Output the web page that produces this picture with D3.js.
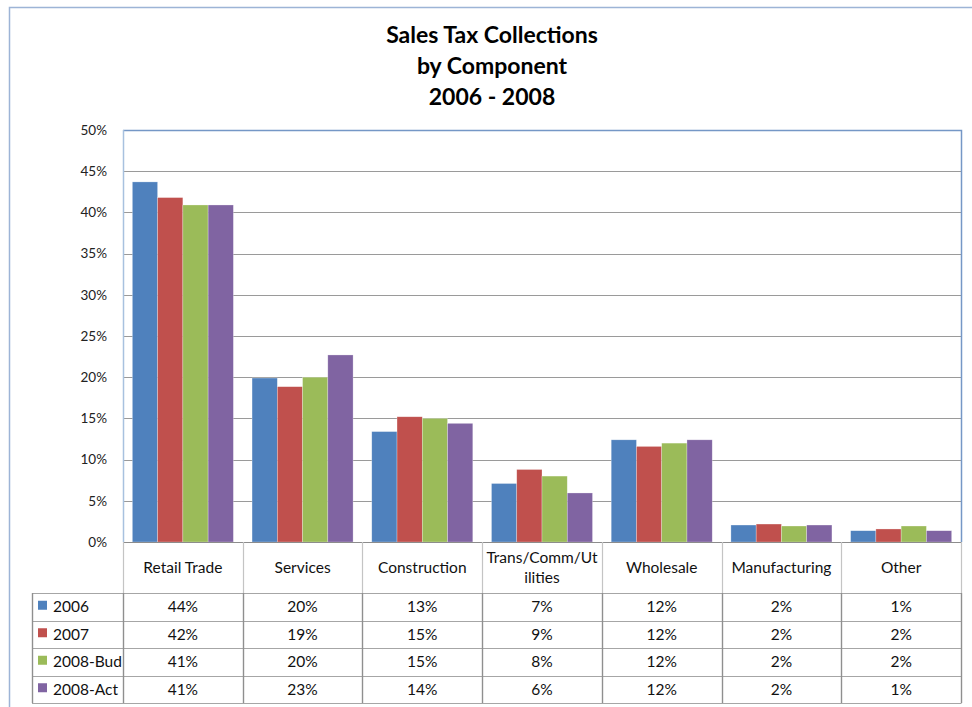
<!DOCTYPE html>
<html>
<head>
<meta charset="utf-8">
<script src="https://cdn.jsdelivr.net/npm/d3@7"></script>
<style>
  html, body { margin: 0; padding: 0; background: #fff; }
  svg { display: block; font-family: Lato, "Open Sans", sans-serif; }
</style>
</head>
<body>
<svg id="chart" width="972" height="707"></svg>
<script>
// Sales tax share by component, 2006 - 2008
const categories = ["Retail Trade", "Services", "Construction", "Trans/Comm/Utilities", "Wholesale", "Manufacturing", "Other"];
const headerLines = [["Retail Trade"], ["Services"], ["Construction"], ["Trans/Comm/Ut", "ilities"], ["Wholesale"], ["Manufacturing"], ["Other"]];
const seriesNames = ["2006", "2007", "2008-Bud", "2008-Act"];
const seriesColors = ["#4F81BD", "#C0504D", "#9BBB59", "#8064A2"];
const values2006    = [0.437, 0.199, 0.134, 0.071, 0.124, 0.0206, 0.0137];
const values2007    = [0.418, 0.1885, 0.152, 0.088, 0.116, 0.0218, 0.0158];
const values2008Bud = [0.409, 0.200, 0.150, 0.080, 0.120, 0.0194, 0.0194];
const values2008Act = [0.409, 0.227, 0.144, 0.0595, 0.124, 0.0206, 0.0137];
const yTicks = [0, 0.05, 0.10, 0.15, 0.20, 0.25, 0.30, 0.35, 0.40, 0.45, 0.50];

const series = [values2006, values2007, values2008Bud, values2008Act];

const svg = d3.select("#chart");
const plot = { left: 123, right: 961, top: 130, bottom: 542 };
const table = { left: 32, headerBottom: 593, rowH: 27.5 };
const tableFont = 15.5;

// outer chart frame
svg.append("rect")
  .attr("x", 9.5).attr("y", 7.5).attr("width", 980).attr("height", 720)
  .attr("fill", "none").attr("stroke", "#9db4d6").attr("stroke-width", 1.5);

// title
const title = svg.append("text")
  .attr("text-anchor", "middle")
  .attr("font-weight", "bold").attr("font-size", 23).attr("fill", "#000");
["Sales Tax Collections", "by Component", "2006 - 2008"].forEach((t, i) => {
  title.append("tspan").attr("x", 492).attr("y", 43 + i * 31).text(t);
});

const x0 = d3.scaleBand().domain(categories).range([plot.left, plot.right]).padding(0);
const x1 = d3.scaleBand().domain(seriesNames)
  .range([0, x0.bandwidth()]).paddingInner(0).paddingOuter(0.37);
const y = d3.scaleLinear().domain([0, 0.5]).range([plot.bottom, plot.top]);

// gridlines
svg.append("g")
  .selectAll("line").data(yTicks.slice(1, -1)).join("line")
  .attr("x1", plot.left).attr("x2", plot.right)
  .attr("y1", d => Math.round(y(d)) + 0.5).attr("y2", d => Math.round(y(d)) + 0.5)
  .attr("stroke", "#9a9a9a").attr("stroke-width", 1);

// y axis labels
const yAxis = d3.axisLeft(y).tickValues(yTicks).tickFormat(d3.format(".0%")).tickSize(0).tickPadding(16);
const gy = svg.append("g").attr("transform", `translate(${plot.left},0)`).call(yAxis);
gy.select(".domain").remove();
gy.selectAll("text").attr("font-size", 13.5).attr("fill", "#222")
  .attr("font-family", "Lato, 'Open Sans', sans-serif");

// bars
const groups = svg.append("g").selectAll("g").data(categories).join("g")
  .attr("transform", d => `translate(${x0(d)},0)`);
groups.selectAll("rect")
  .data((c, ci) => series.map((s, si) => ({ name: seriesNames[si], v: s[ci], color: seriesColors[si] })))
  .join("rect")
  .attr("x", d => x1(d.name))
  .attr("width", x1.bandwidth())
  .attr("y", d => y(d.v))
  .attr("height", d => y(0) - y(d.v))
  .attr("fill", d => d.color)
  .attr("stroke", "rgba(255,255,255,0.45)").attr("stroke-width", 0.6);

// plot frame: top/right in blue, left axis lighter, baseline gray
svg.append("path")
  .attr("d", `M${plot.left},${plot.top + 0.5}H${plot.right + 0.5}V${plot.bottom}`)
  .attr("fill", "none").attr("stroke", "#7597c6").attr("stroke-width", 1.5);
svg.append("line")
  .attr("x1", plot.left + 0.5).attr("x2", plot.left + 0.5).attr("y1", plot.top).attr("y2", plot.bottom)
  .attr("stroke", "#a8c1df").attr("stroke-width", 1.5);
svg.append("line")
  .attr("x1", plot.left).attr("x2", plot.right).attr("y1", plot.bottom + 0.5).attr("y2", plot.bottom + 0.5)
  .attr("stroke", "#8c8c8c").attr("stroke-width", 1);

// data table: header row with category names
const boundaries = categories.map(c => x0(c)).concat([plot.right]);
svg.append("g").selectAll("line").data(boundaries).join("line")
  .attr("x1", d => Math.round(d) + 0.5).attr("x2", d => Math.round(d) + 0.5)
  .attr("y1", plot.bottom).attr("y2", table.headerBottom)
  .attr("stroke", "#c4c4c4").attr("stroke-width", 1.2);

const header = svg.append("g").attr("font-size", tableFont).attr("fill", "#111").attr("text-anchor", "middle");
categories.forEach((c, i) => {
  const cx = x0(c) + x0.bandwidth() / 2;
  const lines = headerLines[i];
  const t = header.append("text").attr("fill", "#111");
  lines.forEach((ln, j) => {
    const cy = lines.length === 1 ? 573 : 563 + j * 20;
    t.append("tspan").attr("x", cx).attr("y", cy).text(ln);
  });
});

// data rows
const fmt = d3.format(".0%");
const rowsTop = table.headerBottom;
const rowsBottom = rowsTop + table.rowH * seriesNames.length;
const grid = svg.append("g");
// horizontal lines
d3.range(seriesNames.length + 1).forEach(i => {
  const yy = Math.round(rowsTop + i * table.rowH) + 0.5;
  grid.append("line").attr("x1", table.left).attr("x2", plot.right + 0.5)
    .attr("y1", yy).attr("y2", yy).attr("stroke", "#a6a6a6").attr("stroke-width", 1.2);
});
// vertical lines
[table.left].concat(boundaries).forEach(xv => {
  const xx = Math.round(xv) + 0.5;
  grid.append("line").attr("x1", xx).attr("x2", xx).attr("y1", rowsTop).attr("y2", rowsBottom)
    .attr("stroke", "#8f8f8f").attr("stroke-width", 1.4);
});

seriesNames.forEach((name, si) => {
  const cy = rowsTop + si * table.rowH + table.rowH / 2;
  svg.append("rect").attr("x", 38).attr("y", cy - 6).attr("width", 9).attr("height", 9)
    .attr("fill", seriesColors[si]);
  svg.append("text").attr("x", 53).attr("y", cy + 5.5).attr("font-size", tableFont).attr("fill", "#111").text(name);
  categories.forEach((c, ci) => {
    svg.append("text").attr("x", x0(c) + x0.bandwidth() / 2).attr("y", cy + 5.5)
      .attr("text-anchor", "middle").attr("font-size", tableFont).attr("fill", "#111")
      .text(fmt(series[si][ci]));
  });
});
</script>
</body>
</html>
